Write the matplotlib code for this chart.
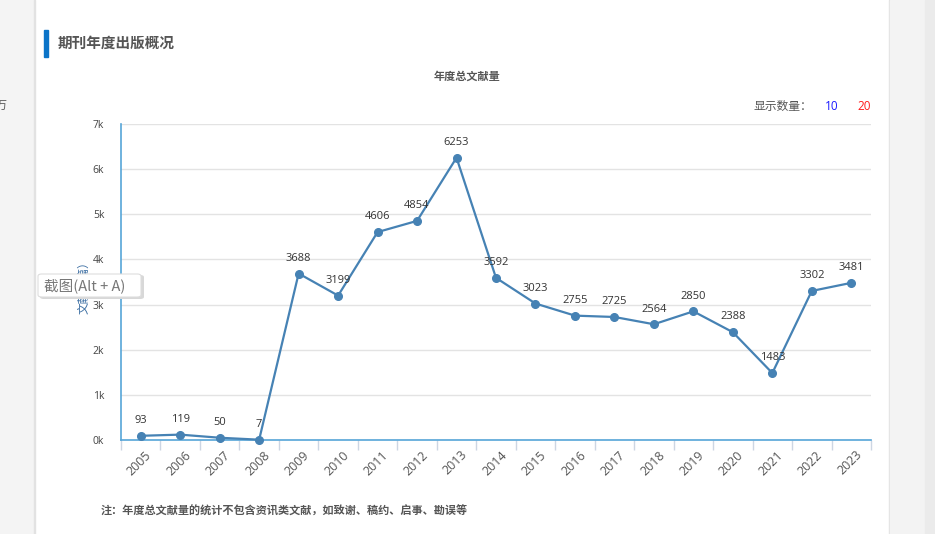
import matplotlib
matplotlib.use("Agg")
import matplotlib.pyplot as plt
from matplotlib.patches import Rectangle, FancyBboxPatch
from matplotlib.ticker import FuncFormatter, FixedLocator

plt.rcParams['font.family'] = ['Open Sans', 'Noto Sans CJK SC', 'DejaVu Sans']

years = ['2005', '2006', '2007', '2008', '2009', '2010', '2011', '2012', '2013', '2014',
         '2015', '2016', '2017', '2018', '2019', '2020', '2021', '2022', '2023']
counts = [93, 119, 50, 7, 3688, 3199, 4606, 4854, 6253, 3592,
          3023, 2755, 2725, 2564, 2850, 2388, 1483, 3302, 3481]
yticks = [0, 1000, 2000, 3000, 4000, 5000, 6000, 7000]

W, H = 935, 534
fig = plt.figure(figsize=(W / 100, H / 100), dpi=100)
fig.patch.set_facecolor('white')

def fx(px):
    return px / W

def fy(py):
    return 1 - py / H

# page background strips
fig.add_artist(Rectangle((0, 0), fx(34), 1, transform=fig.transFigure, color='#f4f4f4', zorder=0))
fig.add_artist(Rectangle((fx(34), 0), fx(1.2), 1, transform=fig.transFigure, color='#e2e2e2', zorder=0))
fig.add_artist(Rectangle((fx(889), 0), fx(1.2), 1, transform=fig.transFigure, color='#e2e2e2', zorder=0))
fig.add_artist(Rectangle((fx(890), 0), fx(35), 1, transform=fig.transFigure, color='#f3f3f3', zorder=0))
fig.add_artist(Rectangle((fx(925), 0), fx(10), 1, transform=fig.transFigure, color='#ebebeb', zorder=0))
fig.text(fx(-4), fy(106), '万', fontsize=8, color='#555555', ha='left', va='center')

# section header
fig.add_artist(Rectangle((fx(44), fy(57)), fx(4), 27 / H, transform=fig.transFigure, color='#0b74c8', zorder=1))
fig.text(fx(58), fy(44), '期刊年度出版概况', fontsize=10.5, fontweight='bold', color='#555555',
         ha='left', va='center')

# chart title
fig.text(fx(467), fy(77), '年度总文献量', fontsize=8, fontweight='bold', color='#555555',
         ha='center', va='center')

# show count
fig.text(fx(812), fy(106), '显示数量：', fontsize=8.5, color='#555555', ha='right', va='center')
fig.text(fx(832), fy(106), '10', fontsize=8.5, color='#1a1aff', ha='center', va='center')
fig.text(fx(864), fy(106), '20', fontsize=8.5, color='#ff1a1a', ha='center', va='center')

# axes
ax = fig.add_axes([fx(121), fy(440), fx(871) - fx(121), (440 - 124) / H])
ax.set_facecolor('none')
x = list(range(len(years)))
ax.plot(x, counts, color='#4682b4', linewidth=1.6, marker='o', markersize=5.5, zorder=3, clip_on=False)
for xi, v in zip(x, counts):
    ax.annotate(str(v), (xi, v), xytext=(0, 7), textcoords='offset points', ha='center', va='bottom',
                fontsize=8, color='#333333')

ax.set_xlim(-0.5, len(years) - 0.5)
ax.set_ylim(0, 7000)
ax.yaxis.set_major_locator(FixedLocator(yticks))
ax.yaxis.set_major_formatter(FuncFormatter(lambda v, p: f'{int(v / 1000)}k'))
ax.grid(axis='y', color='#e3e3e3', linewidth=1)
ax.set_axisbelow(True)
for s in ['top', 'right']:
    ax.spines[s].set_visible(False)
ax.spines['left'].set_color('#56a5d8')
ax.spines['bottom'].set_color('#56a5d8')
ax.spines['left'].set_linewidth(1.2)
ax.spines['bottom'].set_linewidth(1.2)
ax.tick_params(axis='y', length=0, labelsize=7.5, labelcolor='#444444', pad=12)

ax.set_xticks(x)
ax.set_xticklabels(years, rotation=45, ha='right', rotation_mode='anchor', fontsize=9, color='#555555')
ax.tick_params(axis='x', length=0, pad=6)
ax.set_xticks([i - 0.5 for i in range(len(years) + 1)], minor=True)
ax.tick_params(axis='x', which='minor', length=7, color='#cdd6e3', width=1)
for lbl in ax.get_xticklabels():
    lbl.set_transform(lbl.get_transform() + matplotlib.transforms.ScaledTranslation(3 / 72, 0, fig.dpi_scale_trans))

fig.text(fx(84), fy(285), '文献（篇）', rotation=90, fontsize=8.5, color='#3d6fa3',
         ha='center', va='center', family=['Noto Sans CJK SC', 'DejaVu Sans'])

# screenshot tooltip overlay
fig.add_artist(FancyBboxPatch((fx(40), fy(299)), fx(104), 24 / H, boxstyle='round,pad=0,rounding_size=0.004',
                              transform=fig.transFigure, facecolor='#d8d8d8', edgecolor='none', zorder=9))
fig.add_artist(FancyBboxPatch((fx(38), fy(297)), fx(103), 23 / H, boxstyle='round,pad=0,rounding_size=0.004',
                              transform=fig.transFigure, facecolor='white', edgecolor='#dddddd',
                              linewidth=0.8, zorder=10))
fig.text(fx(44), fy(286), '截图(Alt + A)', fontsize=10.5, color='#777777', ha='left', va='center',
         zorder=11, family=['Noto Sans CJK SC', 'DejaVu Sans'])

# note
fig.text(fx(101), fy(511), '注：年度总文献量的统计不包含资讯类文献，如致谢、稿约、启事、勘误等', fontsize=8,
         fontweight='bold', color='#555555', ha='left', va='center', family=['Noto Sans CJK SC', 'DejaVu Sans'])

fig.savefig('out.png', dpi=100, facecolor=fig.get_facecolor())
